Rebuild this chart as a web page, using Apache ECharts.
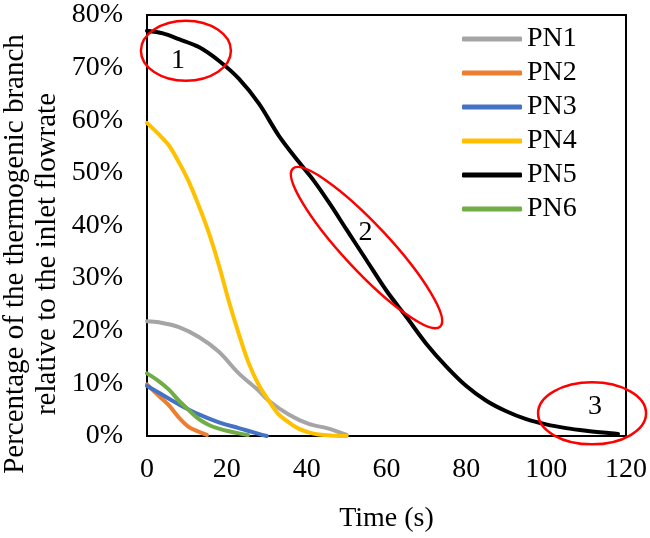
<!DOCTYPE html>
<html>
<head>
<meta charset="utf-8">
<script src="https://cdn.jsdelivr.net/npm/echarts@6/dist/echarts.min.js"></script>
<style>
html,body{margin:0;padding:0;background:#fff;}
#c{width:650px;height:538px;}
</style>
</head>
<body>
<div id="c"></div>
<script>
// ---- data ----
const seriesNames = ['PN1', 'PN2', 'PN3', 'PN4', 'PN5', 'PN6'];
const xTicks = [0, 20, 40, 60, 80, 100, 120];
const yTicks = [0, 10, 20, 30, 40, 50, 60, 70, 80];

const pn1Time = [0, 3, 8, 13, 18, 23, 28, 30.5, 35.5, 40.5, 45.5, 50];
const pn1Val  = [21.8, 21.6, 20.7, 18.8, 16.0, 11.9, 8.6, 6.7, 4.1, 2.3, 1.4, 0.2];

const pn2Time = [0, 3, 5.5, 8, 10.5, 13, 15];
const pn2Val  = [9.8, 7.6, 5.8, 3.5, 1.7, 0.8, 0.2];

const pn3Time = [0, 3, 8, 13, 18, 23, 28, 30];
const pn3Val  = [9.5, 8.2, 6.0, 4.1, 2.6, 1.5, 0.4, 0.0];

const pn4Time = [0, 3, 5.5, 8, 10.5, 13, 15.5, 18, 20.5, 23, 25.5, 28, 30.5, 33, 35.5, 38, 40.5, 43, 46, 50];
const pn4Val  = [59.5, 57.3, 55.2, 52.0, 48.3, 43.7, 38.6, 32.5, 25.6, 19.4, 13.8, 9.7, 6.7, 4.1, 2.6, 1.4, 0.7, 0.3, 0.1, 0.0];

const pn5Time = [0, 4, 8, 13, 18, 23, 28, 33, 38, 42, 46, 50, 55, 60, 65, 70, 75, 80, 85, 90, 95, 100, 105, 110, 115, 118];
const pn5Val  = [77.0, 76.5, 75.4, 73.9, 71.3, 67.9, 63.2, 57.1, 52.1, 48.3, 43.9, 39.2, 33.4, 27.6, 22.6, 17.5, 13.2, 9.5, 6.7, 4.7, 3.2, 2.2, 1.5, 1.0, 0.6, 0.4];

const pn6Time = [0, 3, 5.5, 8, 10.5, 13, 15.5, 18, 20.5, 23, 25.3];
const pn6Val  = [11.9, 10.4, 8.8, 6.7, 4.9, 3.2, 2.1, 1.4, 0.9, 0.5, 0.2];

// annotation anchors in data coordinates [time, percent]
const annoLabels = ['1', '2', '3'];
const annoCenters = [[9.75, 73.2], [55, 35.8], [111.5, 4.3]];
const annoTextPos = [[7.75, 71.4], [54.75, 38.6], [112.25, 5.6]];

// ---- styles ----
const colors = ['#A5A5A5', '#ED7D31', '#4472C4', '#FFC000', '#000000', '#70AD47'];
const FONT = '"Liberation Serif", "Times New Roman", serif';

function zip(t, v) { return t.map((x, i) => [x, v[i]]); }
const times = [pn1Time, pn2Time, pn3Time, pn4Time, pn5Time, pn6Time];
const vals = [pn1Val, pn2Val, pn3Val, pn4Val, pn5Val, pn6Val];

const chart = echarts.init(document.getElementById('c'), null, {renderer: 'canvas'});

const option = {
  animation: false,
  backgroundColor: '#fff',
  color: colors,
  grid: {left: 147, right: 22, top: 15, bottom: 94, show: true, borderColor: '#000', borderWidth: 2, backgroundColor: 'transparent'},
  legend: {
    data: seriesNames,
    orient: 'vertical',
    left: 462,
    top: 25,
    padding: 0,
    icon: 'roundRect',
    itemWidth: 60,
    itemHeight: 5,
    itemGap: 6,
    textStyle: {fontFamily: FONT, fontSize: 28, color: '#000', padding: [0, 0, 0, 0]}
  },
  xAxis: {
    type: 'value', min: xTicks[0], max: xTicks[xTicks.length - 1], interval: xTicks[1] - xTicks[0],
    name: 'Time (s)', nameLocation: 'middle', nameGap: 69,
    nameTextStyle: {fontFamily: FONT, fontSize: 28, color: '#000'},
    axisLine: {show: true, lineStyle: {color: '#000', width: 2}},
    axisTick: {show: false},
    splitLine: {show: false},
    axisLabel: {fontFamily: FONT, fontSize: 28, color: '#000', margin: 20}
  },
  yAxis: {
    type: 'value', min: yTicks[0], max: yTicks[yTicks.length - 1], interval: yTicks[1] - yTicks[0],
    axisLine: {show: true, lineStyle: {color: '#000', width: 2}},
    axisTick: {show: false},
    splitLine: {show: false},
    axisLabel: {fontFamily: FONT, fontSize: 28, color: '#000', margin: 24, formatter: '{value}%'}
  },
  series: seriesNames.map((n, i) => ({
    name: n, type: 'line', smooth: 0.33, showSymbol: false, symbol: 'none',
    data: zip(times[i], vals[i]),
    lineStyle: {width: 4, color: colors[i], cap: 'round', join: 'round'},
    itemStyle: {color: colors[i]},
    z: i === 4 ? 3 : 2
  }))
};
chart.setOption(option);

const ellipseSize = [[45, 30, 0], [108, 23, -47], [54, 31, 0]];
const graphics = [];
annoCenters.forEach((c, i) => {
  const p = chart.convertToPixel({gridIndex: 0}, c);
  const s = ellipseSize[i];
  graphics.push({
    type: 'ellipse', x: p[0], y: p[1], rotation: s[2] * Math.PI / 180,
    shape: {cx: 0, cy: 0, rx: s[0], ry: s[1]},
    style: {fill: 'none', stroke: '#FF0000', lineWidth: 2.5}, z: 10
  });
  const tp = chart.convertToPixel({gridIndex: 0}, annoTextPos[i]);
  graphics.push({
    type: 'text', x: tp[0], y: tp[1],
    style: {text: annoLabels[i], fontFamily: FONT, fontSize: 28, fill: '#000', align: 'center', verticalAlign: 'middle'}, z: 10
  });
});
graphics.push({
  type: 'text', x: 31, y: 254, rotation: Math.PI / 2,
  style: {text: 'Percentage of the thermogenic branch\nrelative to the inlet flowrate', fontFamily: FONT, fontSize: 29, lineHeight: 32, fill: '#000', align: 'center', verticalAlign: 'middle'}
});
chart.setOption({graphic: graphics});
</script>
</body>
</html>
